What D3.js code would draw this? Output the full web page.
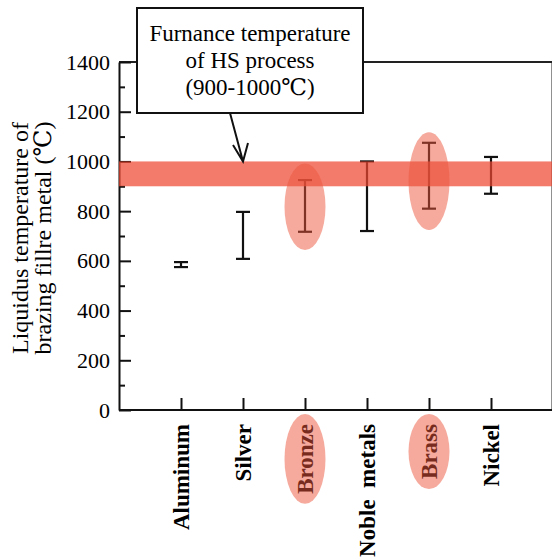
<!DOCTYPE html>
<html>
<head>
<meta charset="utf-8">
<script src="https://cdn.jsdelivr.net/npm/d3@7"></script>
<style>
  body { margin: 0; background: #fff; }
</style>
</head>
<body>
<svg id="chart" width="552" height="558"></svg>
<script>
const categories = ["Aluminum", "Silver", "Bronze", "Noble  metals", "Brass", "Nickel"];
const lowValues = [575, 608, 717, 720, 810, 870];
const highValues = [595, 797, 925, 1000, 1075, 1018];
const furnaceRange = [900, 1000];
const highlighted = ["Bronze", "Brass"];
const highlightLow = [644, 724];
const highlightHigh = [992, 1117];
const yMajorTicks = [0, 200, 400, 600, 800, 1000, 1200, 1400];
const yMinorTicks = [100, 300, 500, 700, 900, 1100, 1300];

const serif = '"Liberation Serif", "Times New Roman", "DejaVu Serif", serif';
const svg = d3.select("#chart");
const plotLeft = 119, plotRight = 552.5, plotTop = 62, plotBottom = 410;

const x = d3.scalePoint().domain(categories).range([plotLeft, 553]).padding(1);
const y = d3.scaleLinear().domain([0, 1400]).range([plotBottom, plotTop]);

// frame
svg.append("path")
  .attr("d", `M${plotLeft},${plotTop}H${plotRight}V${plotBottom}`)
  .attr("fill", "none").attr("stroke", "#222").attr("stroke-width", 2);

// y axis, ticks inward
const yAxis = svg.append("g").attr("transform", `translate(${plotLeft},0)`)
  .call(d3.axisLeft(y).tickValues(yMajorTicks).tickFormat(d3.format("d"))
    .tickSizeInner(-12).tickSizeOuter(0).tickPadding(9));
yAxis.attr("font-family", null);
yAxis.selectAll("text")
  .style("font-family", serif).style("font-size", "22px").attr("fill", "#000");
svg.append("g").attr("transform", `translate(${plotLeft},0)`)
  .call(d3.axisLeft(y).tickValues(yMinorTicks).tickSize(-6).tickFormat(""))
  .select(".domain").remove();

// x axis
const xAxis = svg.append("g").attr("transform", `translate(0,${plotBottom})`)
  .call(d3.axisBottom(x).tickSizeInner(-12).tickSizeOuter(0).tickFormat(""));
xAxis.select(".domain").attr("d", `M${plotLeft},0H${plotRight}`);
svg.selectAll(".tick line").attr("stroke", "#111").attr("stroke-width", 2);
svg.selectAll(".domain").attr("stroke", "#111").attr("stroke-width", 2);

// error bars
const bars = svg.append("g").selectAll("g").data(categories).join("g")
  .attr("stroke", "#111").attr("stroke-width", 2.2);
bars.append("line")
  .attr("x1", d => x(d)).attr("x2", d => x(d))
  .attr("y1", (d, i) => y(lowValues[i])).attr("y2", (d, i) => y(highValues[i]));
bars.append("line")
  .attr("x1", d => x(d) - 7).attr("x2", d => x(d) + 7)
  .attr("y1", (d, i) => y(lowValues[i])).attr("y2", (d, i) => y(lowValues[i]));
bars.append("line")
  .attr("x1", d => x(d) - 7).attr("x2", d => x(d) + 7)
  .attr("y1", (d, i) => y(highValues[i])).attr("y2", (d, i) => y(highValues[i]));

// furnace band
svg.append("rect")
  .attr("x", plotLeft).attr("width", plotRight - plotLeft)
  .attr("y", y(furnaceRange[1])).attr("height", y(furnaceRange[0]) - y(furnaceRange[1]))
  .attr("fill", "rgb(238,72,50)").attr("opacity", 0.72);

// highlight ellipses around bars
svg.append("g").selectAll("ellipse").data(highlighted).join("ellipse")
  .attr("cx", d => x(d))
  .attr("cy", (d, i) => (y(highlightLow[i]) + y(highlightHigh[i])) / 2)
  .attr("rx", 20.5)
  .attr("ry", (d, i) => (y(highlightLow[i]) - y(highlightHigh[i])) / 2)
  .attr("fill", "rgb(236,85,60)").attr("opacity", 0.5);

// category labels
const labels = svg.append("g").selectAll("text").data(categories).join("text")
  .attr("transform", d => `translate(${x(d)},424) rotate(-90)`)
  .attr("text-anchor", "end").attr("dy", "0.35em")
  .style("font-family", serif)
  .style("font-size", "23px").style("font-weight", "bold").style("white-space", "pre")
  .attr("fill", "#000")
  .text(d => d);

labels.filter(d => highlighted.includes(d)).each(function (d) {
  const b = this.getBBox();
  svg.append("ellipse")
    .attr("cx", x(d)).attr("cy", 424 + b.width / 2)
    .attr("rx", 20.5).attr("ry", b.width / 2 + 10)
    .attr("fill", "rgb(236,85,60)").attr("opacity", 0.5);
});

// y title
const titleLines = ["Liquidus temperature of", "brazing fillre metal (\u2103)"];
svg.append("g").selectAll("text").data(titleLines).join("text")
  .attr("transform", (d, i) => `translate(${28 + i * 23},238) rotate(-90)`)
  .attr("text-anchor", "middle")
  .style("font-family", serif).style("font-size", "24px")
  .text(d => d);

// callout
svg.append("path")
  .attr("d", `M230,113L243,${y(1000)}M233,145L243,${y(1000)}L248,143`)
  .attr("fill", "none").attr("stroke", "#111").attr("stroke-width", 2);
svg.append("rect")
  .attr("x", 137).attr("y", 8).attr("width", 226).attr("height", 105)
  .attr("fill", "#fff").attr("stroke", "#111").attr("stroke-width", 2);
const calloutLines = ["Furnance temperature", "of HS process", "(900-1000\u2103)"];
svg.append("g").selectAll("text").data(calloutLines).join("text")
  .attr("x", 250).attr("y", (d, i) => 40.5 + i * 27)
  .attr("text-anchor", "middle")
  .style("font-family", serif).style("font-size", "23px")
  .text(d => d);
</script>
</body>
</html>
